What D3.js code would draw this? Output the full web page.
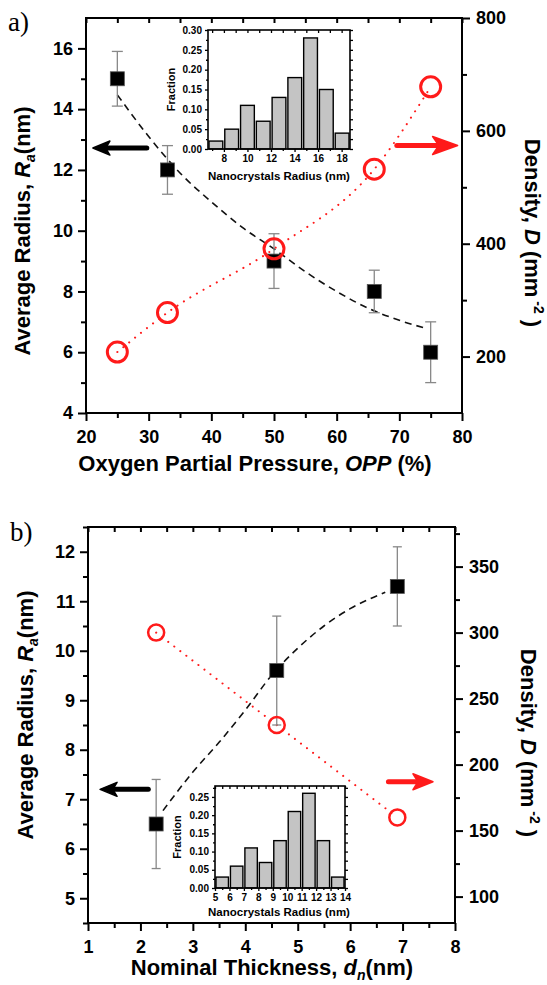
<!DOCTYPE html>
<html>
<head>
<meta charset="utf-8">
<script src="https://cdn.jsdelivr.net/npm/d3@7"></script>
<style>
  body { margin: 0; background: #fff; }
  svg text { font-family: "Liberation Sans", Arial, sans-serif; font-weight: bold; fill: #000; }
</style>
</head>
<body>
<script>
// ---- panel a) values
const oppA = [25, 33, 50, 66, 75];
const radiusA = [15, 12, 9, 8, 6];
const radiusErrA = [0.9, 0.8, 0.9, 0.7, 1.0];
const densityA = [208, 278, 391, 532, 678];
const fitXA = [25, 30, 35, 40, 45, 50, 55, 60, 65, 70, 74];
const fitYA = [14.47, 13.1, 11.9, 10.95, 10.1, 9.4, 8.65, 8.0, 7.45, 7.05, 6.8];
const histCentersA = [7.32, 8.66, 10.0, 11.34, 12.68, 14.02, 15.36, 16.7, 18.04];
const histFracA = [0.02, 0.05, 0.11, 0.07, 0.13, 0.18, 0.28, 0.15, 0.04];

// ---- panel b) values
const thickB = [2.3, 4.6, 6.9];
const radiusB = [6.5, 9.6, 11.3];
const radiusErrB = [0.9, 1.1, 0.8];
const densityB = [300, 230, 160];
const fitXB = [2.43, 3.0, 3.5, 4.0, 4.5, 5.0, 5.5, 6.0, 6.67];
const fitYB = [6.77, 7.55, 8.15, 8.8, 9.5, 10.05, 10.5, 10.85, 11.18];
const histCentersB = [5.5, 6.5, 7.5, 8.5, 9.5, 10.5, 11.5, 12.5, 13.5];
const histFracB = [0.03, 0.06, 0.11, 0.07, 0.13, 0.21, 0.26, 0.13, 0.03];

// ---- tick values
const xTicksA = [20, 30, 40, 50, 60, 70, 80];
const xMinorA = [25, 35, 45, 55, 65, 75];
const yTicksA = [4, 6, 8, 10, 12, 14, 16];
const yMinorA = [5, 7, 9, 11, 13, 15];
const y2TicksA = [200, 400, 600, 800];
const y2MinorA = [300, 500, 700];
const insetXTicksA = [8, 10, 12, 14, 16, 18];
const insetXMinorA = [7, 9, 11, 13, 15, 17];
const insetYTicksA = [0, 0.05, 0.10, 0.15, 0.20, 0.25, 0.30];

const xTicksB = [1, 2, 3, 4, 5, 6, 7, 8];
const xMinorB = [1.5, 2.5, 3.5, 4.5, 5.5, 6.5, 7.5];
const yTicksB = [5, 6, 7, 8, 9, 10, 11, 12];
const yMinorB = [4.5, 5.5, 6.5, 7.5, 8.5, 9.5, 10.5, 11.5, 12.5];
const y2TicksB = [100, 150, 200, 250, 300, 350];
const y2MinorB = [125, 175, 225, 275, 325, 375];
const insetXTicksB = [5, 6, 7, 8, 9, 10, 11, 12, 13, 14];
const insetYTicksB = [0, 0.05, 0.10, 0.15, 0.20, 0.25];

const RED = '#ff1a1a';

const svg = d3.select('body').append('svg')
  .attr('width', 547)
  .attr('height', 985);

function tidy(g, fontSize) {
  g.select('.domain').remove();
  g.selectAll('.tick line').attr('stroke', '#000').attr('stroke-width', 2);
  g.selectAll('.tick text').attr('font-size', fontSize + 'px').attr('fill', '#000');
  return g;
}

function addAxis(g, axis, tx, ty, fontSize, lw) {
  const a = g.append('g').attr('transform', `translate(${tx},${ty})`).call(axis);
  tidy(a, fontSize);
  if (lw) a.selectAll('.tick line').attr('stroke-width', lw);
  return a;
}

function arrow(g, xTail, xTip, y, color, headL, headH) {
  const dir = xTip > xTail ? 1 : -1;
  const notch = xTip - dir * headL * 0.75;
  g.append('line')
    .attr('x1', xTail).attr('x2', notch + dir * 2)
    .attr('y1', y).attr('y2', y)
    .attr('stroke', color).attr('stroke-width', 5)
    .attr('stroke-linecap', 'round');
  g.append('path')
    .attr('d', `M${xTip},${y} L${xTip - dir * headL},${y - headH} L${notch},${y} L${xTip - dir * headL},${y + headH} Z`)
    .attr('fill', color)
    .attr('stroke', color).attr('stroke-width', 1.5).attr('stroke-linejoin', 'round');
}

function panel(cfg) {
  const g = svg.append('g');
  const x = d3.scaleLinear().domain(cfg.xDomain).range([cfg.left, cfg.right]);
  const y = d3.scaleLinear().domain(cfg.yDomain).range([cfg.bottom, cfg.top]);
  const y2 = d3.scaleLinear().domain(cfg.y2Domain).range([cfg.bottom, cfg.top]);
  const fmt = d3.format('d');

  // axes
  addAxis(g, d3.axisBottom(x).tickValues(cfg.xTicks).tickSize(8).tickPadding(9).tickFormat(fmt), 0, cfg.bottom, 18);
  addAxis(g, d3.axisBottom(x).tickValues(cfg.xMinor).tickSize(5).tickFormat(''), 0, cfg.bottom, 18);
  addAxis(g, d3.axisBottom(x).tickValues(cfg.xTop).tickSize(5).tickFormat(''), 0, cfg.top, 18);
  addAxis(g, d3.axisLeft(y).tickValues(cfg.yTicks).tickSize(8).tickPadding(5).tickFormat(fmt), cfg.left, 0, 18);
  addAxis(g, d3.axisLeft(y).tickValues(cfg.yMinor).tickSize(5).tickFormat(''), cfg.left, 0, 18);
  addAxis(g, d3.axisRight(y2).tickValues(cfg.y2Ticks).tickSize(8).tickPadding(6).tickFormat(fmt), cfg.right, 0, 18);
  addAxis(g, d3.axisRight(y2).tickValues(cfg.y2Minor).tickSize(5).tickFormat(''), cfg.right, 0, 18);

  g.append('rect')
    .attr('x', cfg.left).attr('y', cfg.top)
    .attr('width', cfg.right - cfg.left).attr('height', cfg.bottom - cfg.top)
    .attr('fill', 'none').attr('stroke', '#000').attr('stroke-width', 2);

  // fitted radius curve
  const fit = d3.zip(cfg.fitX, cfg.fitY);
  g.append('path')
    .attr('d', d3.line().x(d => x(d[0])).y(d => y(d[1])).curve(d3.curveMonotoneX)(fit))
    .attr('fill', 'none').attr('stroke', '#111').attr('stroke-width', 1.6)
    .attr('stroke-dasharray', '7,5');

  // density dotted line
  const dens = d3.zip(cfg.xs, cfg.density);
  g.append('path')
    .attr('d', d3.line().x(d => x(d[0])).y(d => y2(d[1])).curve(cfg.densCurve)(dens))
    .attr('fill', 'none').attr('stroke', RED).attr('stroke-width', 2)
    .attr('stroke-linecap', 'round').attr('stroke-dasharray', '0.1,7.5');

  // error bars
  const pts = cfg.xs.map((v, i) => ({ x: v, r: cfg.radius[i], e: cfg.err[i], d: cfg.density[i] }));
  const eb = g.append('g').attr('stroke', '#888').attr('stroke-width', 1.3);
  pts.forEach(p => {
    const cx = x(p.x), y1 = y(p.r + p.e), y0 = y(p.r - p.e);
    eb.append('line').attr('x1', cx).attr('x2', cx).attr('y1', y1).attr('y2', y0);
    eb.append('line').attr('x1', cx - cfg.cap).attr('x2', cx + cfg.cap).attr('y1', y1).attr('y2', y1);
    eb.append('line').attr('x1', cx - cfg.cap).attr('x2', cx + cfg.cap).attr('y1', y0).attr('y2', y0);
  });

  // squares
  g.append('g').selectAll('rect').data(pts).join('rect')
    .attr('x', d => x(d.x) - 7).attr('y', d => y(d.r) - 7)
    .attr('width', 14).attr('height', 14)
    .attr('fill', '#000').attr('stroke', '#555').attr('stroke-width', 0.8);

  // circles
  g.append('g').selectAll('circle').data(pts).join('circle')
    .attr('cx', d => x(d.x)).attr('cy', d => y2(d.d))
    .attr('r', cfg.circleR)
    .attr('fill', 'none').attr('stroke', RED).attr('stroke-width', cfg.circleW);

  // arrows
  arrow(g, x(cfg.leftArrow[0]), x(cfg.leftArrow[1]), y(cfg.leftArrow[2]), '#000', 17, 7);
  arrow(g, x(cfg.rightArrow[0]), x(cfg.rightArrow[1]), y2(cfg.rightArrow[2]), RED, cfg.redHead[0], cfg.redHead[1]);

  // axis titles
  const lt = g.append('text')
    .attr('transform', `translate(${cfg.leftTitleX},${cfg.leftTitleY}) rotate(-90)`)
    .attr('text-anchor', 'middle').attr('font-size', '22px');
  lt.append('tspan').text('Average Radius, ');
  lt.append('tspan').attr('font-style', 'italic').text('R');
  lt.append('tspan').attr('font-size', '14px').attr('font-style', 'italic').attr('dy', 5).text('a');
  lt.append('tspan').attr('dy', -5).text('(nm)');

  const rt = g.append('text')
    .attr('transform', `translate(${cfg.rightTitleX},${cfg.rightTitleY}) rotate(90)`)
    .attr('text-anchor', 'middle').attr('font-size', '22px');
  rt.append('tspan').text('Density, ');
  rt.append('tspan').attr('font-style', 'italic').text('D');
  rt.append('tspan').text(' (mm');
  rt.append('tspan').attr('font-size', '14px').attr('dy', -9).text(' -2');
  rt.append('tspan').attr('dy', 9).text(' )');

  const bt = g.append('text')
    .attr('x', cfg.xTitleX).attr('y', cfg.xTitleY)
    .attr('text-anchor', 'middle').attr('font-size', '22px');
  cfg.xTitle(bt);

  g.append('text')
    .attr('x', cfg.tagX).attr('y', cfg.tagY)
    .style('font-family', '"Liberation Serif", "Times New Roman", serif')
    .style('font-weight', 'normal').attr('font-size', '27px')
    .text(cfg.tag);

  return g;
}

function inset(cfg) {
  const g = svg.append('g');
  const x = d3.scaleLinear().domain(cfg.xDomain).range([cfg.left, cfg.right]);
  const y = d3.scaleLinear().domain(cfg.yDomain).range([cfg.bottom, cfg.top]);

  g.append('rect')
    .attr('x', cfg.left).attr('y', cfg.top)
    .attr('width', cfg.right - cfg.left).attr('height', cfg.bottom - cfg.top)
    .attr('fill', '#fff');

  g.append('g').selectAll('rect').data(cfg.centers).join('rect')
    .attr('x', (d) => x(d - cfg.binW / 2) + 1)
    .attr('width', (d) => x(d + cfg.binW / 2) - x(d - cfg.binW / 2) - 2)
    .attr('y', (d, i) => y(cfg.frac[i]))
    .attr('height', (d, i) => y(0) - y(cfg.frac[i]))
    .attr('fill', '#c4c4c4').attr('stroke', '#000').attr('stroke-width', 1.4);

  const fmt = d3.format('.2f');
  addAxis(g, d3.axisLeft(y).tickValues(cfg.yTicks).tickSize(3).tickPadding(3).tickFormat(fmt), cfg.left, 0, 10, 1.3);
  addAxis(g, d3.axisLeft(y).tickValues(cfg.yMinor).tickSize(2).tickFormat(''), cfg.left, 0, 10, 1.3);
  addAxis(g, d3.axisLeft(y).tickValues(cfg.yTicks.concat(cfg.yMinor)).tickSize(-3).tickFormat(''), cfg.right, 0, 10, 1.3);
  addAxis(g, d3.axisBottom(x).tickValues(cfg.xTicks).tickSize(3).tickPadding(3).tickFormat(d3.format('d')), 0, cfg.bottom, 10, 1.3);
  addAxis(g, d3.axisBottom(x).tickValues(cfg.xMinor).tickSize(2).tickFormat(''), 0, cfg.bottom, 10, 1.3);
  addAxis(g, d3.axisBottom(x).tickValues(cfg.xTicks.concat(cfg.xMinor)).tickSize(3).tickFormat(''), 0, cfg.top, 10, 1.3);

  g.append('rect')
    .attr('x', cfg.left).attr('y', cfg.top)
    .attr('width', cfg.right - cfg.left).attr('height', cfg.bottom - cfg.top)
    .attr('fill', 'none').attr('stroke', '#000').attr('stroke-width', 1.6);

  g.append('text')
    .attr('transform', `translate(${cfg.fracX},${(cfg.top + cfg.bottom) / 2}) rotate(-90)`)
    .attr('text-anchor', 'middle').attr('font-size', '11px')
    .text('Fraction');
  g.append('text')
    .attr('x', (cfg.left + cfg.right) / 2 + cfg.titleDx).attr('y', cfg.titleY)
    .attr('text-anchor', 'middle').attr('font-size', '11.5px')
    .text('Nanocrystals Radius (nm)');
}

panel({
  left: 86, right: 462, top: 18, bottom: 413,
  xDomain: [20, 80], yDomain: [4, 17], y2Domain: [100, 800],
  xTicks: xTicksA, xMinor: xMinorA, xTop: xTicksA.concat(xMinorA),
  yTicks: yTicksA, yMinor: yMinorA, y2Ticks: y2TicksA, y2Minor: y2MinorA,
  xs: oppA, radius: radiusA, err: radiusErrA, density: densityA,
  fitX: fitXA, fitY: fitYA, cap: 5.5, circleR: 10, circleW: 3,
  densCurve: d3.curveMonotoneX,
  leftArrow: [29.7, 21.1, 12.72], rightArrow: [69.6, 79.3, 574], redHead: [25, 9],
  leftTitleX: 30, leftTitleY: 231, rightTitleX: 525, rightTitleY: 233,
  xTitleX: 255, xTitleY: 471,
  xTitle: t => {
    t.append('tspan').text('Oxygen Partial Pressure, ');
    t.append('tspan').attr('font-style', 'italic').text('OPP');
    t.append('tspan').text(' (%)');
  },
  tag: 'a)', tagX: 8, tagY: 31
});

panel({
  left: 88, right: 455, top: 527, bottom: 923,
  xDomain: [1, 8], yDomain: [4.5, 12.5], y2Domain: [80, 380],
  xTicks: xTicksB, xMinor: xMinorB, xTop: xTicksB.concat(xMinorB),
  yTicks: yTicksB, yMinor: yMinorB, y2Ticks: y2TicksB, y2Minor: y2MinorB,
  xs: thickB, radius: radiusB, err: radiusErrB, density: densityB,
  fitX: fitXB, fitY: fitYB, cap: 4.5, circleR: 8, circleW: 2.5,
  densCurve: d3.curveLinear,
  leftArrow: [2.15, 1.23, 7.2], rightArrow: [6.73, 7.58, 187], redHead: [20, 8],
  leftTitleX: 33, leftTitleY: 715, rightTitleX: 521, rightTitleY: 743,
  xTitleX: 272, xTitleY: 975,
  xTitle: t => {
    t.append('tspan').text('Nominal Thickness, ');
    t.append('tspan').attr('font-style', 'italic').text('d');
    t.append('tspan').attr('font-size', '14px').attr('font-style', 'italic').attr('dy', 5).text('n');
    t.append('tspan').attr('dy', -5).text('(nm)');
  },
  tag: 'b)', tagX: 10, tagY: 541
});

inset({
  left: 208, right: 350, top: 30, bottom: 149,
  xDomain: [6.65, 18.71], yDomain: [0, 0.30],
  centers: histCentersA, frac: histFracA, binW: 1.34,
  xTicks: insetXTicksA, xMinor: insetXMinorA,
  yTicks: insetYTicksA, yMinor: [0.025, 0.075, 0.125, 0.175, 0.225, 0.275],
  fracX: 175, titleY: 180, titleDx: 0
});

inset({
  left: 215, right: 345, top: 786, bottom: 888,
  xDomain: [5, 14], yDomain: [0, 0.28],
  centers: histCentersB, frac: histFracB, binW: 1,
  xTicks: insetXTicksB, xMinor: [5.5, 6.5, 7.5, 8.5, 9.5, 10.5, 11.5, 12.5, 13.5],
  yTicks: insetYTicksB, yMinor: [0.025, 0.075, 0.125, 0.175, 0.225, 0.275],
  fracX: 181, titleY: 916, titleDx: -1
});
</script>
</body>
</html>
